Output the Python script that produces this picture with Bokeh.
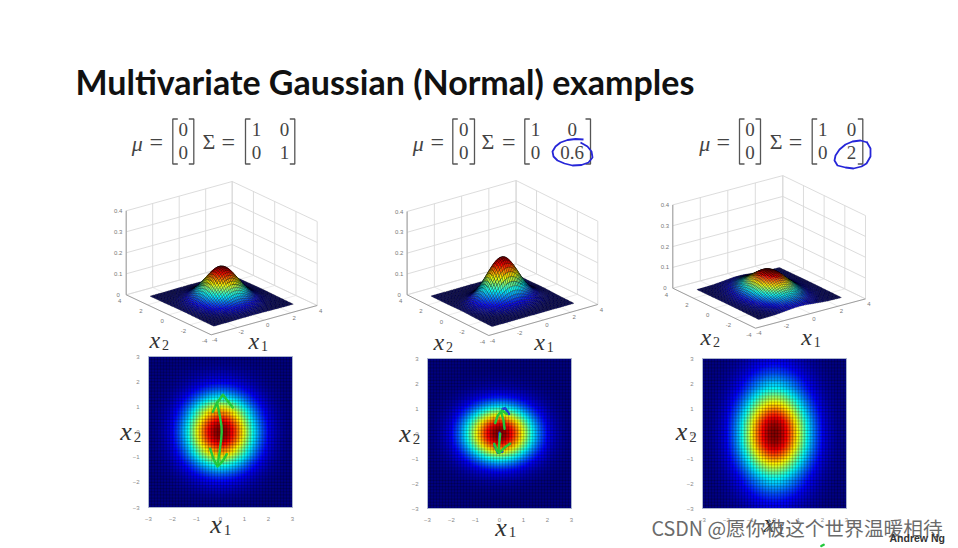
import numpy as np
from bokeh.embed import file_html
from bokeh.resources import INLINE
from bokeh.plotting import figure
from bokeh.layouts import column, row
from bokeh.models import FixedTicker, LinearColorMapper
from bokeh.core.properties import value

TITLE = "Multivariate Gaussian (Normal) examples"
WATERMARK = "CSDN @愿你被这个世界温暖相待"
CREDIT = "Andrew Ng"
HEAT_TICKS = [-3, -2, -1, 0, 1, 2, 3]
BOX_TICKS = [-4, -2, 0, 2, 4]
Z_TICKS = [0, 0.1, 0.2, 0.3, 0.4]
Z_LABELS = ["0", "0.1", "0.2", "0.3", "0.4"]
SIGMA_ENTRIES = [["1", "0", "0", "1"], ["1", "0", "0", "0.6"], ["1", "0", "0", "2"]]
PEAKS = [0.16, 0.205, 0.113]

# density fall-off read along the half axis, 0 to 3 in steps of 0.125
HALF_VAR1 = [1, .992, .969, .932, .882, .822, .755, .683, .607, .532, .458, .389, .325,
             .268, .216, .172, .135, .105, .080, .060, .044, .032, .023, .016, .011]
HALF_VAR06 = [1, .987, .950, .890, .813, .722, .624, .527, .435, .348, .272, .207, .153,
              .111, .078, .053, .036, .023, .015, .009, .0055, .003, .002, .001, .0006]
HALF_VAR2 = [1, .996, .984, .965, .935, .895, .850, .800, .745, .690, .635, .580, .525,
             .470, .420, .375, .335, .295, .260, .225, .195, .170, .145, .125, .105]
Y_PROFILES = [HALF_VAR1, HALF_VAR06, HALF_VAR2]

# hand-drawn ink on the heat maps, in x1/x2 units: (x1 list, x2 list)
INK_GREEN = [
    [([-.15, -.08, -.02, .04, .05, .03, -.04, -.125], [1.17, .9, .6, .25, 0, -.28, -.81, -1.34]),
     ([-.32, -.15, .1, .29, .51], [.8, 1.15, 1.48, 1.24, .97]),
     ([-.43, -.29, -.125, .1, .26], [-.66, -1.08, -1.37, -1.15, -.88])],
    [([.21, .17, .07], [.19, .52, .85]),
     ([-.18, -.07, .1, .31], [.42, .72, .92, .78]),
     ([.03, -.01, -.04], [-.01, -.41, -.77]),
     ([-.22, -.11, -.01, .24, .44], [-.41, -.68, -.78, -.54, -.41])],
    [([1.95, 2.05], [-4.5, -4.45])],
]
INK_BLUE = [[], [([.125, .24, .4], [.98, 1.01, .78]),
                 ([0, -.01], [.03, -.28]),
                 ([-.21, -.07, .125], [-.48, -.77, -.72])], []]

# hand-drawn circles round the changed covariance entry
CIRCLE2_X = [583, 575, 567, 560, 555, 552, 553, 557, 564, 572, 581, 588, 592, 591, 587, 580]
CIRCLE2_Y = [139, 138.5, 139.5, 142, 146, 151, 156, 160, 163, 165, 164.5, 162, 157, 151, 146, 142]
CIRCLE3_X = [867, 860, 852, 845, 839, 835, 834, 837, 845, 853, 861, 866, 870, 870, 866]
CIRCLE3_Y = [142, 140, 141, 144, 149, 155, 160, 165, 167, 168, 166, 163, 156, 148, 141]

# ---- layout (page pixels) ----
FRAMES = [(148, 292, 356, 507), (427, 571, 358, 508), (702, 846, 358, 508)]
FIG_SPANS = [(0, 360), (360, 640), (640, 958)]
TOP_BOTTOM = 353
PAGE_BOTTOM = 548
BOXES = [
    dict(F=(210.7, 334.3), R=(106, -29.3), L=(-85, -40), H=84),
    dict(F=(488.3, 335.0), R=(109, -31), L=(-81.7, -40.7), H=83.3),
    dict(F=(755.0, 327.7), R=(110, -29.3), L=(-82.7, -40), H=83.3),
]
BOX_X2LABEL = [(161, 339), (445, 341), (712, 336)]
BOX_X1LABEL = [(260, 340), (545.7, 341), (812.7, 336)]
HEAT_X2LABEL = [(131.7, 431), (410.7, 433), (687.3, 431)]
HEAT_X1LABEL = [(221.7, 524), (506.7, 526.7), (775, 523)]
FORMULA = [
    dict(mu=136.7, eq1=155.7, b1=(172.3, 193.3), sig=208.3, eq2=227.7, b2=(245, 294.3), c1=256, c2=284),
    dict(mu=417.7, eq1=436.7, b1=(452.3, 474), sig=487.3, eq2=508.3, b2=(524.3, 590), c1=535, c2=571.7),
    dict(mu=704.3, eq1=722.7, b1=(739, 760), sig=775.7, eq2=795, b2=(811.7, 862.3), c1=822.3, c2=851),
]
SERIF = "Liberation Serif"


def jet(t):
    t = np.clip(t, 0, 1)
    r = np.clip(1.5 - np.abs(4 * t - 3), 0, 1)
    g = np.clip(1.5 - np.abs(4 * t - 2), 0, 1)
    b = np.clip(1.5 - np.abs(4 * t - 1), 0, 1)
    return "#%02x%02x%02x" % (int(r * 255), int(g * 255), int(b * 255))


JET = [jet(i / 255) for i in range(256)]


def full(half):
    h = np.array(half, dtype=float)
    return np.concatenate([h[:0:-1], h])


# ---- top: title, formulas, 3-D boxes ----
top = figure(width=958, height=TOP_BOTTOM, x_range=(0, 958), y_range=(TOP_BOTTOM, 0),
             output_backend="svg", toolbar_location=None, min_border=0,
             outline_line_color=None)
top.xaxis.visible = False
top.yaxis.visible = False
top.grid.visible = False


def put(p, x, y, s, size, color="#444444", font=SERIF, style="normal", align="center"):
    p.text([x], [y], text=[s], text_font=value(font), text_font_size=f"{size}px",
           text_font_style=style, text_color=color, text_align=align, text_baseline="middle")


put(top, 75, 81, TITLE, 34, "#111111", "Lato", "bold", "left")


def bracket(p, x0, x1):
    y0, y1, t = 118.5, 163.5, 5
    p.line([x0 + t, x0, x0, x0 + t], [y0, y0, y1, y1], line_color="#555555", line_width=1.3)
    p.line([x1 - t, x1, x1, x1 - t], [y0, y0, y1, y1], line_color="#555555", line_width=1.3)


for f, entries in zip(FORMULA, SIGMA_ENTRIES):
    put(top, f["mu"], 143, "μ", 22, style="italic")
    put(top, f["eq1"], 141, "=", 24)
    put(top, f["sig"], 141, "Σ", 22)
    put(top, f["eq2"], 141, "=", 24)
    bracket(top, *f["b1"])
    bracket(top, *f["b2"])
    xm = sum(f["b1"]) / 2
    put(top, xm, 129, "0", 19)
    put(top, xm, 152, "0", 19)
    put(top, f["c1"], 129, entries[0], 19)
    put(top, f["c2"], 129, entries[1], 19)
    put(top, f["c1"], 152, entries[2], 19)
    put(top, f["c2"], 152, entries[3], 19)

top.line(CIRCLE2_X, CIRCLE2_Y, line_color="#2626d8", line_width=1.8, line_join="round")
top.line(CIRCLE3_X, CIRCLE3_Y, line_color="#2626d8", line_width=1.8, line_join="round")


def mathlabel(p, conv, x, y, sub, big=24, small=14):
    dx, dy = conv(x - 12, y)
    put(p, dx, dy, "x", big, "#333333", SERIF, "italic", "left")
    dx, dy = conv(x - 12 + big * 0.52, y + 5)
    put(p, dx, dy, sub, small, "#333333", SERIF, "normal", "left")


for k, box in enumerate(BOXES):
    F, R, L, H = box["F"], box["R"], box["L"], box["H"]

    def proj(x1, x2, z=0.0):
        a, b = (np.asarray(x1, float) + 4) / 8, (np.asarray(x2, float) + 4) / 8
        return (F[0] + a * R[0] + b * L[0], F[1] + a * R[1] + b * L[1] - np.asarray(z, float) / 0.4 * H)

    wall = dict(line_color="#d8d8d8", line_width=0.9)
    floor = dict(line_color="#e6e6e6", line_width=0.8)
    for t in BOX_TICKS:
        sx, sy = proj([t, t], [4, 4], [0, 0.4])
        top.line(sx, sy, **wall)
        sx, sy = proj([4, 4], [t, t], [0, 0.4])
        top.line(sx, sy, **wall)
        sx, sy = proj([t, t], [-4, 4])
        top.line(sx, sy, **floor)
        sx, sy = proj([-4, 4], [t, t])
        top.line(sx, sy, **floor)
    for z in Z_TICKS:
        sx, sy = proj([-4, 4, 4], [4, 4, -4], [z, z, z])
        top.line(sx, sy, **wall)
    axis = dict(line_color="#8a8a8a", line_width=0.8)
    sx, sy = proj([-4, -4, 4], [4, -4, -4])
    top.line(sx, sy, **axis)
    sx, sy = proj([-4, -4], [4, 4], [0, 0.4])
    top.line(sx, sy, **axis)

    tk = dict(text_font=value("Liberation Sans"), text_font_size="6px", text_color="#777777",
              text_align="center", text_baseline="middle")
    lx, ly = proj(-4, 4, np.array(Z_TICKS))
    top.text(lx - 8, ly, text=Z_LABELS, **tk)
    lx, ly = proj(-4, np.array(BOX_TICKS))
    top.text(lx - 6.5, ly + 6.5, text=[str(t) for t in BOX_TICKS], **tk)
    lx, ly = proj(np.array(BOX_TICKS), -4)
    top.text(lx + 3.5, ly + 5, text=[str(t) for t in BOX_TICKS], **tk)

    # surface from the read profiles, painted back to front
    px = full(HALF_VAR1)
    py = full(Y_PROFILES[k])
    axis_vals = np.array([-3 + 0.125 * i for i in range(len(px))])
    Z = np.outer(px, py)  # Z[i, j]: x1 index, x2 index
    xs, ys, cols = [], [], []
    n = len(px)
    for i in range(n - 2, -1, -1):
        for j in range(n - 2, -1, -1):
            ii = [i, i + 1, i + 1, i]
            jj = [j, j, j + 1, j + 1]
            qz = Z[ii, jj]
            qx, qy = proj(axis_vals[ii], axis_vals[jj], qz * PEAKS[k])
            xs.append(qx.tolist())
            ys.append(qy.tolist())
            cols.append(jet(float(qz.mean())))
    top.patches(xs, ys, fill_color=cols, line_color="#000000", line_alpha=0.55, line_width=0.5)

    mathlabel(top, lambda a, b: (a, b), *BOX_X2LABEL[k], "2")
    mathlabel(top, lambda a, b: (a, b), *BOX_X1LABEL[k], "1")

# ---- bottom row: heat maps ----
heat_figs = []
mapper = LinearColorMapper(palette=JET, low=0, high=1)
for k, ((left, right, ytop, ybot), (fx0, fx1)) in enumerate(zip(FRAMES, FIG_SPANS)):
    def conv(x, y, left=left, right=right, ytop=ytop, ybot=ybot):
        return (x - left) / (right - left) * 6 - 3, (ybot - y) / (ybot - ytop) * 6 - 3

    x0, y1 = conv(fx0, TOP_BOTTOM)
    x1, y0 = conv(fx1, PAGE_BOTTOM)
    p = figure(width=fx1 - fx0, height=PAGE_BOTTOM - TOP_BOTTOM, x_range=(x0, x1), y_range=(y0, y1),
               output_backend="svg", toolbar_location=None, min_border=0, outline_line_color=None)
    p.grid.visible = False
    field = np.outer(full(Y_PROFILES[k]), full(HALF_VAR1))
    p.image(image=[field], x=-3, y=-3, dw=6, dh=6, color_mapper=mapper)
    edges = np.array([-3 + 0.125 * i for i in range(1, 48)])
    lo, hi = np.full(47, -3.0), np.full(47, 3.0)
    cell = dict(line_color="#000000", line_alpha=0.2, line_width=1.2)
    p.segment(edges, lo, edges, hi, **cell)
    p.segment(lo, edges, hi, edges, **cell)
    p.quad(left=-3, right=3, bottom=-3, top=3, fill_color=None, line_color="#aab4cc", line_width=1)
    for ax in (p.xaxis, p.yaxis):
        ax.fixed_location = -3
        ax.bounds = (-3, 3)
        ax.ticker = FixedTicker(ticks=HEAT_TICKS)
        ax.major_label_text_font = "Liberation Sans"
        ax.major_label_text_font_size = "6px"
        ax.major_label_text_color = "#888888"
        ax.major_label_standoff = 3
        ax.major_tick_line_color = None
        ax.minor_tick_line_color = None
        ax.axis_line_color = None
    for xs_, ys_ in INK_BLUE[k]:
        p.line(xs_, ys_, line_color="#1c3fd8", line_width=2.4, line_join="round", line_cap="round")
    for xs_, ys_ in INK_GREEN[k]:
        p.line(xs_, ys_, line_color="#22c93c", line_width=2.4, line_join="round", line_cap="round")

    mathlabel(p, conv, *HEAT_X2LABEL[k], "2", 26, 15)
    mathlabel(p, conv, *HEAT_X1LABEL[k], "1", 26, 15)
    if k == 2:
        dx, dy = conv(651, 526.5)
        put(p, dx, dy, WATERMARK, 19.7, "#6a6a6a", "Noto Sans CJK SC", "normal", "left")
        dx, dy = conv(889, 537)
        put(p, dx, dy, CREDIT, 10.5, "#333333", "Liberation Sans", "bold", "left")
    heat_figs.append(p)

page = column(top, row(*heat_figs))
open("out.html", "w").write(file_html(page, INLINE))
